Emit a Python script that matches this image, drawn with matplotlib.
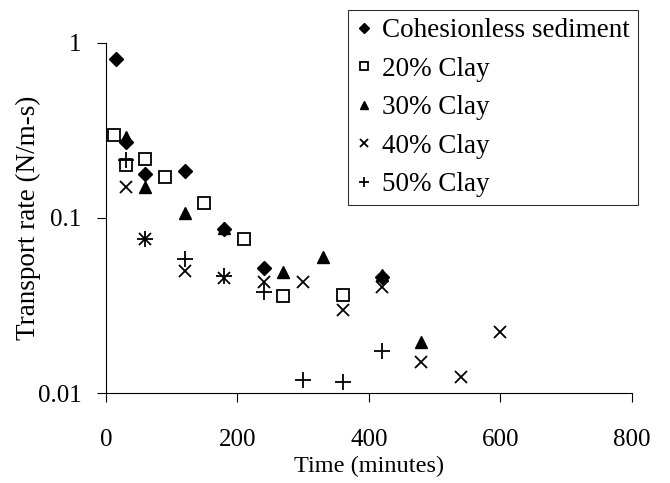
import matplotlib
matplotlib.use("Agg")
import matplotlib.pyplot as plt
from matplotlib.ticker import FixedLocator, FixedFormatter, NullLocator

plt.rcParams['font.family'] = ['Liberation Serif', 'DejaVu Serif']

# time (minutes) and transport rate (N/m-s)
t_cohesionless = [15, 30, 60, 120, 180, 240, 420]
q_cohesionless = [0.80, 0.27, 0.178, 0.186, 0.086, 0.052, 0.046]

t_clay20 = [12, 30, 60, 90, 150, 210, 270, 360]
q_clay20 = [0.297, 0.20, 0.216, 0.17, 0.121, 0.076, 0.0356, 0.0364]

t_clay30 = [30, 60, 120, 180, 270, 330, 420, 480]
q_clay30 = [0.289, 0.15, 0.106, 0.087, 0.0494, 0.0597, 0.047, 0.0197]

t_clay40 = [30, 60, 120, 180, 240, 300, 360, 420, 480, 540, 600]
q_clay40 = [0.149, 0.076, 0.050, 0.0453, 0.0433, 0.0428, 0.030, 0.0402, 0.015, 0.0124, 0.0222]

t_clay50 = [30, 60, 120, 180, 240, 300, 360, 420]
q_clay50 = [0.214, 0.076, 0.058, 0.0467, 0.038, 0.0119, 0.0116, 0.0174]

labels = ['Cohesionless sediment', '20% Clay', '30% Clay', '40% Clay', '50% Clay']

fig = plt.figure(figsize=(6.7, 4.83), dpi=100)
ax = fig.add_axes([0.158, 0.186, 0.785, 0.726])

ax.plot(t_cohesionless, q_cohesionless, 'D', color='black', ms=7.5, ls='none', label=labels[0])
ax.plot(t_clay20, q_clay20, 's', mfc='white', mec='black', mew=1.3, ms=8.5, ls='none', label=labels[1])
ax.plot(t_clay30, q_clay30, '^', color='black', ms=9, ls='none', label=labels[2])
ax.plot(t_clay40, q_clay40, 'x', color='black', mew=1.3, ms=9, ls='none', label=labels[3])
ax.plot(t_clay50, q_clay50, '+', color='black', mew=1.3, ms=12, ls='none', label=labels[4])

ax.set_yscale('log')
ax.set_xlim(0, 800)
ax.set_ylim(0.01, 1)
ax.set_xticks([0, 200, 400, 600, 800])
ax.yaxis.set_major_locator(FixedLocator([0.01, 0.1, 1]))
ax.yaxis.set_major_formatter(FixedFormatter(['0.01', '0.1', '1']))
ax.yaxis.set_minor_locator(NullLocator())

for s in ['top', 'right']:
    ax.spines[s].set_visible(False)
for s in ['left', 'bottom']:
    ax.spines[s].set_linewidth(0.8)
ax.tick_params(axis='both', direction='out', length=6.5, width=0.8, labelsize=18, colors='black')
ax.tick_params(axis='x', pad=19)
ax.tick_params(axis='y', pad=11)

ax.set_xlabel('Time (minutes)', fontsize=17.5, labelpad=4)
ax.set_ylabel('Transport rate (N/m-s)', fontsize=19.5, labelpad=-2)

leg = ax.legend(loc='upper left', bbox_to_anchor=(348 / 670, 1 - 10 / 483),
                bbox_transform=fig.transFigure, borderaxespad=0, fontsize=19.5,
                frameon=True, fancybox=False, edgecolor='black', markerscale=0.65,
                handlelength=0.6, handletextpad=0.35, labelspacing=0.5, borderpad=0.3)
leg.get_frame().set_linewidth(0.8)

fig.savefig('out.png', dpi=100)
